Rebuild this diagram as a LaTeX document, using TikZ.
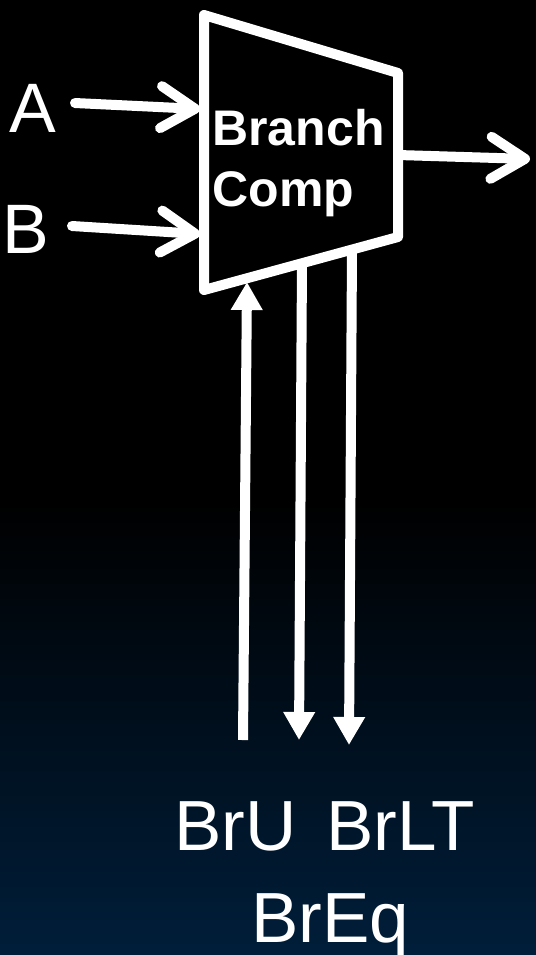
\documentclass[tikz,border=0pt]{standalone}
\usepackage{fontspec}
\setmainfont{Liberation Sans}
\usetikzlibrary{arrows.meta}
\definecolor{bgnavy}{RGB}{0,30,58}

\begin{document}
\begin{tikzpicture}[x=0.5pt, y=-0.5pt,
    wire/.style={white, line width=5pt},
    barb/.style={wire, line cap=round, -{Straight Barb[length=17pt, width=21pt, line cap=round, line join=round]}},
    tri/.style={wire, -{Triangle[length=14pt, width=15pt]}},
    lbl/.style={white, inner sep=0pt, anchor=base west}]
  % 背景：上黑下深蓝
  \useasboundingbox (0,0) rectangle (536,955);
  \fill[black] (0,0) rectangle (536,500);
  \shade[top color=black, bottom color=bgnavy] (0,500) rectangle (536,955);

  % 比较器梯形四角
  \coordinate (TL) at (204,15);
  \coordinate (TR) at (398,73);
  \coordinate (BR) at (398,237);
  \coordinate (BL) at (204,290);
  \draw[wire, line join=round] (TL) -- (TR) -- (BR) -- (BL) -- cycle;
  % 多行节点的 base 取末行基线
  \node[lbl, font=\bfseries\fontsize{25}{30.5}\selectfont, align=left] (comp) at (212,206) {Branch\\Comp};

  % 输入 A、B
  \node[lbl, font=\fontsize{35}{42}\selectfont] (A) at (9,132) {A};
  \node[lbl, font=\fontsize{35}{42}\selectfont] (B) at (2,253) {B};
  \coordinate (Astart) at (75,103);
  \coordinate (Aend) at (200,109);
  \coordinate (Bstart) at (72,226);
  \coordinate (Bend) at (200,234);
  \draw[barb] (Astart) -- (Aend);
  \draw[barb] (Bstart) -- (Bend);

  % 输出
  \coordinate (outstart) at (398,155);
  \coordinate (outend) at (530,159);
  \draw[barb] (outstart) -- (outend);

  % 底部三根信号线
  \coordinate (Ubot) at (243,740);
  \coordinate (Utop) at (247,282);
  \coordinate (Eqtop) at (302,263);
  \coordinate (Eqbot) at (299,740);
  \coordinate (LTtop) at (352,250);
  \coordinate (LTbot) at (349,745);
  \draw[tri] (Ubot) -- (Utop);
  \draw[tri] (Eqtop) -- (Eqbot);
  \draw[tri] (LTtop) -- (LTbot);

  % 信号名
  \node[lbl, font=\fontsize{35.5}{42}\selectfont] (BrU) at (174,850) {BrU};
  \node[lbl, font=\fontsize{35.5}{42}\selectfont] (BrLT) at (326,850) {BrLT};
  \node[lbl, font=\fontsize{35.5}{42}\selectfont] (BrEq) at (251,942) {BrEq};
\end{tikzpicture}
\end{document}
